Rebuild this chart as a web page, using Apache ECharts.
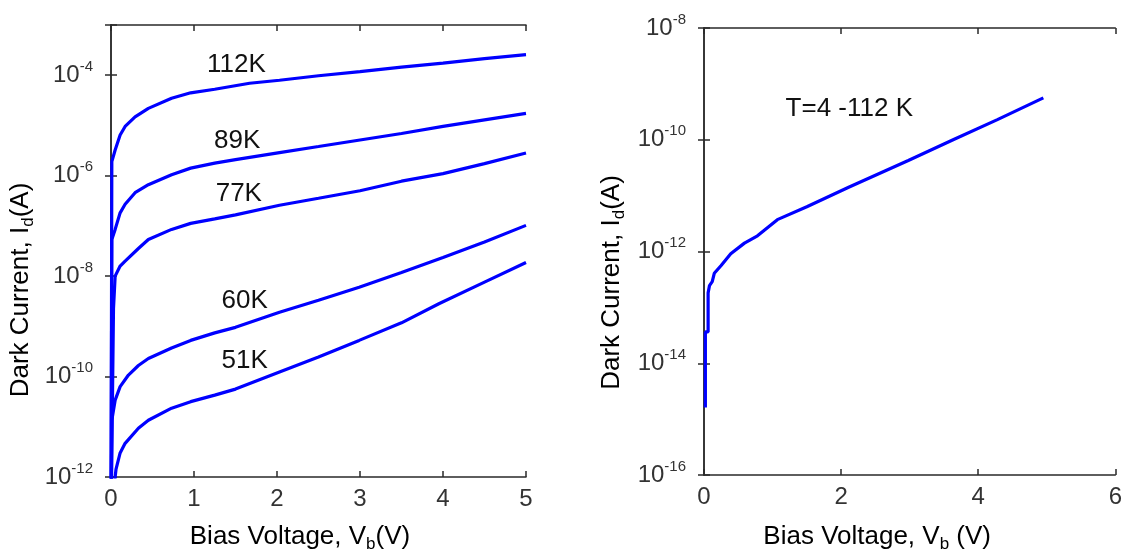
<!DOCTYPE html>
<html>
<head>
<meta charset="utf-8">
<script src="https://cdn.jsdelivr.net/npm/echarts@6/dist/echarts.min.js"></script>
<style>
html, body { margin: 0; background: #fff; }
#chart { width: 1125px; height: 558px; }
</style>
</head>
<body>
<div id="chart"></div>
<script>
// dark current, stored as log10(I / A)
// left panel: one curve per temperature
const v112K = [0, 0.01, 0.05, 0.11, 0.17, 0.29, 0.45, 0.73, 0.96, 1.25, 1.67, 2.03, 2.5, 3.0, 3.5, 4.0, 4.5, 5.0];
const lg112K = [-13, -5.72, -5.49, -5.19, -5.02, -4.83, -4.66, -4.46, -4.35, -4.28, -4.16, -4.10, -4.01, -3.93, -3.84, -3.76, -3.67, -3.59];

const v89K = [0, 0.01, 0.05, 0.11, 0.17, 0.29, 0.45, 0.73, 0.96, 1.25, 1.5, 2.03, 2.5, 3.0, 3.5, 4.0, 4.5, 5.0];
const lg89K = [-13, -7.27, -7.07, -6.74, -6.57, -6.34, -6.18, -5.98, -5.85, -5.75, -5.68, -5.54, -5.42, -5.29, -5.16, -5.02, -4.89, -4.76];

const v77K = [0, 0.03, 0.05, 0.11, 0.17, 0.33, 0.45, 0.73, 0.96, 1.25, 1.5, 2.03, 2.5, 3.0, 3.5, 4.0, 4.5, 5.0];
const lg77K = [-13, -8.65, -8.0, -7.80, -7.70, -7.45, -7.27, -7.07, -6.95, -6.86, -6.78, -6.59, -6.45, -6.30, -6.11, -5.96, -5.76, -5.55];

const v60K = [0, 0.01, 0.05, 0.11, 0.21, 0.33, 0.45, 0.73, 0.96, 1.25, 1.5, 2.03, 2.5, 2.99, 3.5, 4.0, 4.5, 5.0];
const lg60K = [-13, -10.87, -10.47, -10.20, -9.97, -9.78, -9.64, -9.43, -9.28, -9.13, -9.02, -8.72, -8.48, -8.22, -7.93, -7.63, -7.32, -6.99];

const v51K = [0.03, 0.06, 0.11, 0.17, 0.33, 0.45, 0.73, 0.96, 1.25, 1.5, 2.03, 2.5, 2.99, 3.5, 3.95, 4.5, 5.0];
const lg51K = [-12.3, -11.85, -11.52, -11.33, -11.03, -10.87, -10.63, -10.50, -10.37, -10.25, -9.91, -9.61, -9.28, -8.93, -8.55, -8.12, -7.73];

const tempNames = ['112K', '89K', '77K', '60K', '51K'];

// right panel: T = 4 - 112 K
const vAll = [0.02, 0.02, 0.06, 0.06, 0.08, 0.12, 0.15, 0.25, 0.39, 0.59, 0.78, 1.07, 1.5, 2.11, 2.98, 3.65, 4.28, 4.95];
const lgAll = [-14.79, -13.44, -13.44, -12.74, -12.61, -12.54, -12.39, -12.25, -12.04, -11.85, -11.72, -11.43, -11.2, -10.85, -10.37, -9.99, -9.64, -9.25];

const FONT = "'Liberation Sans', Arial, sans-serif";
const BLUE = '#0000ff';
const AXIS = '#2a2a2a';

function pairs(xs, ys) {
    return xs.map((x, i) => [x, ys[i]]);
}

function powLabel(v) {
    return '{b|10}{s|' + v + '}';
}

const powRich = {
    b: { fontSize: 24, color: '#333', fontFamily: FONT, verticalAlign: 'middle' },
    s: { fontSize: 15, color: '#333', fontFamily: FONT, verticalAlign: 'top' }
};

function boxAxis(grid, pos, min, max, interval) {
    return {
        gridIndex: grid, type: 'value', position: pos, min: min, max: max, interval: interval,
        axisLine: { show: true, lineStyle: { color: AXIS, width: 1.5 } },
        axisTick: { show: true, inside: true, length: 6, lineStyle: { color: AXIS, width: 1.5 } },
        axisLabel: { show: false },
        splitLine: { show: false }
    };
}

function xMain(grid, max, interval, gap, shift) {
    return {
        gridIndex: grid, type: 'value', position: 'bottom', min: 0, max: max, interval: interval,
        name: grid == 0 ? 'Bias Voltage, V{sub|b}(V)' : 'Bias Voltage, V{sub|b} (V)',
        nameLocation: 'middle', nameGap: gap,
        nameTextStyle: {
            fontSize: 26, color: '#000', fontFamily: FONT, lineHeight: 32,
            padding: [0, shift, 0, 0],
            rich: { sub: { fontSize: 17, fontFamily: FONT, color: '#000', verticalAlign: 'bottom' } }
        },
        axisLine: { show: true, lineStyle: { color: AXIS, width: 1.5 } },
        axisTick: { show: true, inside: true, length: 6, lineStyle: { color: AXIS, width: 1.5 } },
        axisLabel: { fontSize: 24, color: '#333', fontFamily: FONT, margin: 10 },
        splitLine: { show: false }
    };
}

function yMain(grid, min, max, gap, shift) {
    return {
        gridIndex: grid, type: 'value', position: 'left', min: min, max: max, interval: 2,
        name: 'Dark Current, I{sub|d}(A)',
        nameLocation: 'middle', nameGap: gap, nameRotate: 90,
        nameTextStyle: {
            fontSize: 26, color: '#000', fontFamily: FONT, lineHeight: 32,
            padding: [0, shift, 0, 0],
            rich: { sub: { fontSize: 17, fontFamily: FONT, color: '#000', verticalAlign: 'bottom' } }
        },
        axisLine: { show: true, lineStyle: { color: AXIS, width: 1.5 } },
        axisTick: { show: true, inside: true, length: 6, lineStyle: { color: AXIS, width: 1.5 } },
        axisLabel: {
            margin: 18,
            formatter: v => (v % 2 === 0 ? powLabel(v) : ''),
            lineHeight: 32,
            rich: powRich
        },
        splitLine: { show: false }
    };
}

function curve(xs, ys, xi, yi, label, at) {
    const s = {
        type: 'line', xAxisIndex: xi, yAxisIndex: yi,
        data: pairs(xs, ys),
        showSymbol: false, symbol: 'none', clip: true,
        lineStyle: { color: BLUE, width: 3.2 },
        z: 3
    };
    if (label) {
        s.markPoint = {
            symbol: 'circle', symbolSize: 0,
            data: [{ coord: at }],
            label: { show: true, position: 'inside', formatter: label, fontSize: 26, color: '#111', fontFamily: FONT }
        };
    }
    return s;
}

const chart = echarts.init(document.getElementById('chart'), null, { renderer: 'canvas' });
chart.setOption({
    animation: false,
    backgroundColor: '#fff',
    textStyle: { fontFamily: FONT },
    grid: [
        { left: 111, top: 25, width: 415, height: 454 },
        { left: 704, top: 28, width: 415, height: 456 }
    ],
    xAxis: [
        xMain(0, 5, 1, 44, 37),
        boxAxis(0, 'top', 0, 5, 1),
        xMain(1, 6, 2, 46, 65),
        boxAxis(1, 'top', 0, 6, 2)
    ],
    yAxis: [
        yMain(0, -12, -3, 74, 78),
        boxAxis(0, 'right', -12, -3, 2),
        yMain(1, -16, -8, 76, 62),
        boxAxis(1, 'right', -16, -8, 2)
    ],
    series: [
        curve(v112K, lg112K, 0, 0, tempNames[0], [1.51, -3.80]),
        curve(v89K, lg89K, 0, 0, tempNames[1], [1.52, -5.31]),
        curve(v77K, lg77K, 0, 0, tempNames[2], [1.54, -6.36]),
        curve(v60K, lg60K, 0, 0, tempNames[3], [1.61, -8.50]),
        curve(v51K, lg51K, 0, 0, tempNames[4], [1.61, -9.68]),
        curve(vAll, lgAll, 2, 2, 'T=4 -112 K', [2.12, -9.44])
    ]
});
</script>
</body>
</html>
